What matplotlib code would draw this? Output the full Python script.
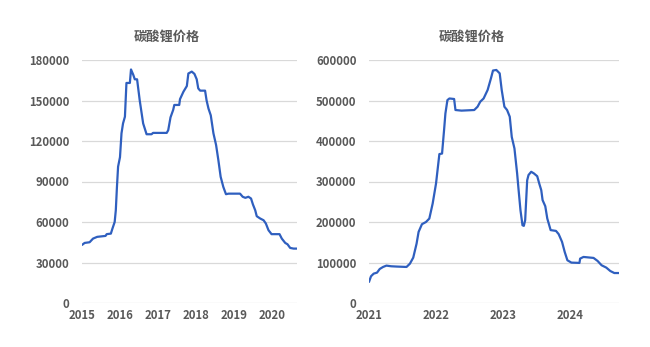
import matplotlib
matplotlib.use("Agg")
import matplotlib.pyplot as plt

plt.rcParams['font.family'] = ['Noto Sans CJK SC', 'DejaVu Sans']

title = "碳酸锂价格"

# Left chart: 2015 - 2020 (decimal year, price)
left_t = [2015.00, 2015.07, 2015.20, 2015.29, 2015.40, 2015.62, 2015.65, 2015.76, 2015.80,
          2015.86, 2015.89, 2015.92, 2015.95, 2016.00, 2016.04, 2016.08, 2016.13, 2016.17,
          2016.26, 2016.29, 2016.35, 2016.39, 2016.45, 2016.52, 2016.61, 2016.70, 2016.83,
          2016.87, 2017.23, 2017.27, 2017.33, 2017.40, 2017.43, 2017.56, 2017.58, 2017.67,
          2017.76, 2017.80, 2017.89, 2017.96, 2018.02, 2018.06, 2018.11, 2018.24, 2018.28,
          2018.33, 2018.39, 2018.46, 2018.53, 2018.59, 2018.65, 2018.72, 2018.79, 2018.86,
          2019.16, 2019.23, 2019.30, 2019.38, 2019.45, 2019.50, 2019.56, 2019.60, 2019.69,
          2019.78, 2019.84, 2019.91, 2019.99, 2020.20, 2020.26, 2020.35, 2020.41, 2020.48,
          2020.57, 2020.66]
left_v = [43000, 44500, 45000, 47700, 49000, 49700, 51000, 51400, 55000,
          60000, 68700, 86000, 101000, 108000, 125700, 133000, 138000, 163000,
          163000, 173000, 169000, 165700, 165700, 150000, 133000, 125000, 125000,
          126000, 126000, 128000, 137500, 143000, 146700, 146700, 151000, 156500,
          160700, 170000, 171400, 169700, 165700, 159000, 157300, 157300, 150000,
          144000, 139000, 125700, 117000, 105800, 93500, 86000, 80600, 81000,
          81000, 78700, 77900, 78700, 77400, 73000, 68700, 64300, 62600,
          61300, 58900, 53900, 51000, 51000, 47700, 44500, 43500, 40800,
          40300, 40300]
left_ticks = [2015, 2016, 2017, 2018, 2019, 2020]
left_yticks = [0, 30000, 60000, 90000, 120000, 150000, 180000]

# Right chart: 2021 - 2024
right_t = [2021.00, 2021.03, 2021.07, 2021.12, 2021.16, 2021.21, 2021.26, 2021.33, 2021.41,
           2021.56, 2021.61, 2021.66, 2021.71, 2021.74, 2021.79, 2021.85, 2021.90, 2021.95,
           2022.00, 2022.05, 2022.09, 2022.12, 2022.14, 2022.17, 2022.20, 2022.27, 2022.29,
           2022.38, 2022.57, 2022.62, 2022.66, 2022.71, 2022.77, 2022.82, 2022.85, 2022.90,
           2022.95, 2022.98, 2023.02, 2023.06, 2023.10, 2023.13, 2023.17, 2023.21, 2023.23,
           2023.26, 2023.29, 2023.31, 2023.33, 2023.36, 2023.38, 2023.42, 2023.46, 2023.51,
           2023.54, 2023.57, 2023.59, 2023.63, 2023.66, 2023.71, 2023.79, 2023.83, 2023.88,
           2023.92, 2023.96, 2024.02, 2024.14, 2024.15, 2024.20, 2024.35, 2024.41, 2024.47,
           2024.54, 2024.60, 2024.66, 2024.73]
right_v = [52000, 66000, 72500, 75000, 84000, 89000, 92300, 90700, 90000,
           89000, 97000, 112000, 146700, 175600, 194600, 200000, 208500, 245700,
           295000, 367700, 369000, 427000, 468000, 501000, 505000, 503700, 476500,
           475000, 476500, 484700, 497000, 505000, 526000, 555000, 574000, 575400,
           567000, 526000, 484700, 476500, 460000, 410000, 381700, 320000, 282700,
           229000, 192000, 190400, 204400, 303000, 316000, 324000, 320000, 313000,
           295000, 278600, 254000, 239000, 208600, 180000, 178000, 170000, 151000,
           126000, 105500, 99700, 99000, 109600, 113700, 111300, 103900, 93200,
           87400, 79000, 74000, 74000]
right_ticks = [2021, 2022, 2023, 2024]
right_yticks = [0, 100000, 200000, 300000, 400000, 500000, 600000]

W, H = 650, 347
fig = plt.figure(figsize=(6.5, 3.47), dpi=100)

line_color = '#2F5FBF'
text_color = '#595959'
grid_color = '#D9D9D9'


def setup(ax, t, v, xticks, yticks, xmax):
    ax.plot(t, v, color=line_color, lw=1.6, solid_joinstyle='round', solid_capstyle='round')
    ax.set_xlim(xticks[0], xmax)
    ax.set_ylim(yticks[0], yticks[-1])
    ax.set_yticks(yticks)
    ax.set_yticklabels([str(y) for y in yticks])
    ax.set_xticks(xticks)
    ax.set_xticklabels([str(x) for x in xticks])
    for s in ax.spines.values():
        s.set_visible(False)
    ax.grid(axis='y', color=grid_color, lw=0.9)
    ax.set_axisbelow(True)
    ax.tick_params(length=0, colors=text_color, labelsize=8.2)
    ax.tick_params(axis='y', pad=9)
    ax.tick_params(axis='x', pad=4)
    for lab in ax.get_xticklabels() + ax.get_yticklabels():
        lab.set_fontweight('bold')
        lab.set_color(text_color)


axL = fig.add_axes([82 / W, 1 - 303 / H, (297 - 82) / W, (303 - 60) / H])
setup(axL, left_t, left_v, left_ticks, left_yticks, 2020.66)
axR = fig.add_axes([369 / W, 1 - 303 / H, (619 - 369) / W, (303 - 60) / H])
setup(axR, right_t, right_v, right_ticks, right_yticks, 2024.73)

fig.text(167 / W, 1 - 37 / H, title, ha='center', va='center', fontsize=9.5,
         fontweight='bold', color=text_color)
fig.text(472 / W, 1 - 37 / H, title, ha='center', va='center', fontsize=9.5,
         fontweight='bold', color=text_color)

fig.savefig('out.png', dpi=100, facecolor='white')
